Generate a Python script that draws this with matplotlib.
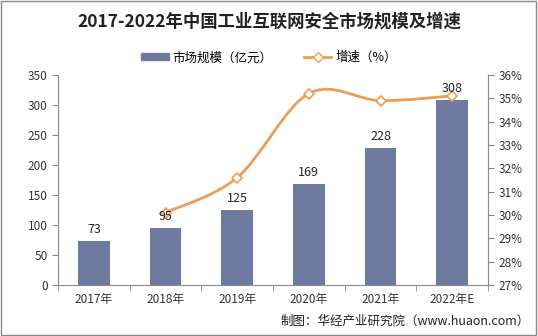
import matplotlib.pyplot as plt
from matplotlib.path import Path
from matplotlib.patches import PathPatch, Rectangle
from matplotlib.lines import Line2D

plt.rcParams['font.family'] = ['Noto Sans CJK SC', 'DejaVu Sans']

years = ["2017年", "2018年", "2019年", "2020年", "2021年", "2022年E"]
market_size = [73, 95, 125, 169, 228, 308]
growth = [None, 30.1, 31.6, 35.2, 34.9, 35.1]

bar_color = "#6E7AA0"
line_color = "#EE9D55"

fig = plt.figure(figsize=(5.38, 3.36), dpi=100)
fig.patches.append(Rectangle((0.002, 0.003), 0.995, 0.994, transform=fig.transFigure,
                             fill=False, edgecolor="#888888", linewidth=1))

ax = fig.add_axes([0.108, 0.152, 0.799, 0.625])
x = list(range(len(years)))
ax.bar(x, market_size, width=0.44, color=bar_color, zorder=2)

ax.set_xlim(-0.5, len(years) - 0.5)
ax.set_ylim(0, 350)
ax.set_yticks(range(0, 351, 50))
ax.set_xticks(x)
ax.set_xticklabels(years, fontsize=8.5, color="#333333")
ax.set_xticks([i + 0.5 for i in range(-1, len(years))], minor=True)
ax.tick_params(axis="x", which="major", length=0, pad=6)
ax.tick_params(axis="x", which="minor", length=4, color="#888888")
ax.tick_params(axis="y", labelsize=8.5, labelcolor="#333333", length=4, color="#888888")
ax.spines["top"].set_visible(False)
ax.spines["right"].set_visible(False)
for s in ["left", "bottom"]:
    ax.spines[s].set_color("#888888")

ax2 = ax.twinx()
ax2.set_ylim(27, 36)
ax2.set_yticks(range(27, 37))
ax2.set_yticklabels([f"{t}%" for t in range(27, 37)])
ax2.tick_params(axis="y", labelsize=8.5, labelcolor="#333333", length=4, color="#888888")
ax2.spines["top"].set_visible(False)
ax2.spines["left"].set_visible(False)
ax2.spines["bottom"].set_visible(False)
ax2.spines["right"].set_color("#888888")

# smooth curve through growth points (Catmull-Rom as cubic Bezier)
gx = [i for i, g in enumerate(growth) if g is not None]
gy = [g for g in growth if g is not None]
pts = list(zip(gx, gy))
verts = [pts[0]]
codes = [Path.MOVETO]
t = 1 / 6
for k in range(len(pts) - 1):
    p0 = pts[k - 1] if k > 0 else pts[k]
    p1 = pts[k]
    p2 = pts[k + 1]
    p3 = pts[k + 2] if k + 2 < len(pts) else pts[k + 1]
    c1 = (p1[0] + (p2[0] - p0[0]) * t, p1[1] + (p2[1] - p0[1]) * t)
    c2 = (p2[0] - (p3[0] - p1[0]) * t, p2[1] - (p3[1] - p1[1]) * t)
    verts += [c1, c2, p2]
    codes += [Path.CURVE4] * 3
ax2.add_patch(PathPatch(Path(verts, codes), facecolor="none", edgecolor=line_color,
                        linewidth=2.0, zorder=3))
ax2.plot(gx, gy, linestyle="none", marker="D", markersize=5.5, markerfacecolor="white",
         markeredgecolor=line_color, markeredgewidth=1.2, zorder=4)

# bar value labels on top of the line
for i, v in enumerate(market_size):
    ax2.text(i, v + 8, str(v), ha="center", va="bottom", fontsize=9, color="#222222",
             zorder=6, transform=ax.transData)

fig.text(0.5, 0.935, "2017-2022年中国工业互联网安全市场规模及增速", ha="center", va="center",
         fontsize=12.5, fontweight="bold", color="#222222")

handles = [Rectangle((0, 0), 1, 1, color=bar_color),
           Line2D([0], [0], color=line_color, linewidth=2.0, marker="D", markersize=5,
                  markerfacecolor="white", markeredgecolor=line_color)]
fig.legend(handles, ["市场规模（亿元）", "增速（%）"], loc="center", bbox_to_anchor=(0.5, 0.828),
           ncol=2, frameon=False, fontsize=9, handlelength=2.2, handleheight=0.5,
           columnspacing=2.5, handletextpad=0.3)

fig.text(0.985, 0.045, "制图：华经产业研究院（www.huaon.com）", ha="right", va="center",
         fontsize=9, color="#222222")

fig.savefig("out.png", dpi=100)
